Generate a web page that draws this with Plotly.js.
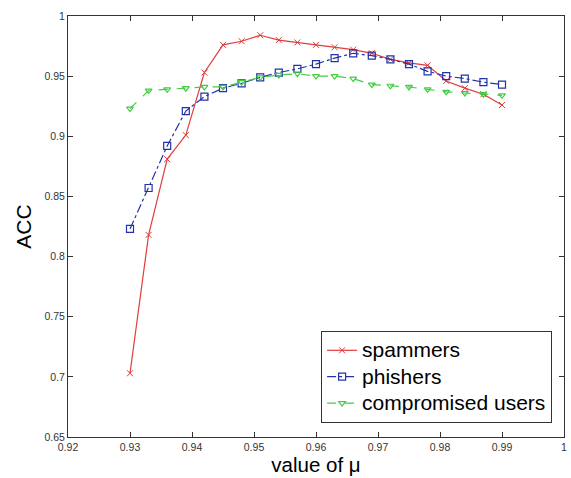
<!DOCTYPE html>
<html><head><meta charset="utf-8">
<script src="https://cdn.plot.ly/plotly-3.0.1.min.js"></script>
<style>html,body{margin:0;padding:0;background:#fff;}#chart{width:571px;height:478px;}</style>
</head><body><div id="chart"></div>
<script>
const mu = [0.930,0.933,0.936,0.939,0.942,0.945,0.948,0.951,0.954,0.957,0.960,0.963,0.966,0.969,0.972,0.975,0.978,0.981,0.984,0.987,0.990];
const spammers = [0.703,0.818,0.881,0.901,0.953,0.976,0.979,0.984,0.980,0.978,0.976,0.974,0.972,0.969,0.964,0.961,0.959,0.946,0.940,0.935,0.926];
const phishers = [0.823,0.857,0.892,0.921,0.933,0.940,0.944,0.949,0.953,0.956,0.960,0.965,0.969,0.967,0.964,0.960,0.954,0.950,0.948,0.945,0.943];
const compromised = [0.923,0.938,0.939,0.940,0.941,0.941,0.945,0.949,0.951,0.952,0.950,0.950,0.948,0.943,0.942,0.941,0.939,0.937,0.936,0.935,0.934];
const seriesNames = ['spammers','phishers','compromised users'];
const xTicks = [0.92,0.93,0.94,0.95,0.96,0.97,0.98,0.99,1];
const xTickText = ['0.92','0.93','0.94','0.95','0.96','0.97','0.98','0.99','1'];
const yTicks = [0.65,0.7,0.75,0.8,0.85,0.9,0.95,1];
const yTickText = ['0.65','0.7','0.75','0.8','0.85','0.9','0.95','1'];

const big = s => '<span style="font-size:21px">' + s + '</span>';

const traces = [
  {x: mu, y: spammers, name: big(seriesNames[0]), mode: 'lines+markers',
   line: {color: '#e03c3c', width: 1.2, dash: 'solid'},
   marker: {symbol: 'x-thin-open', size: 6, color: '#e03c3c', line: {color: '#e03c3c', width: 1}}},
  {x: mu, y: phishers, name: big(seriesNames[1]), mode: 'lines+markers',
   line: {color: '#2233aa', width: 1.2, dash: 'dashdot'},
   marker: {symbol: 'square-open', size: 7, color: '#2233aa', line: {color: '#2233aa', width: 1.2}}},
  {x: mu, y: compromised, name: big(seriesNames[2]), mode: 'lines+markers',
   line: {color: '#44cc44', width: 1.2, dash: 'dash'},
   marker: {symbol: 'triangle-down-open', size: 6, color: '#44cc44', line: {color: '#44cc44', width: 1.2}}}
];

const axisCommon = {
  showgrid: false, zeroline: false, showline: true, linecolor: '#333', linewidth: 1,
  mirror: 'ticks', ticks: 'inside', ticklen: 5, tickcolor: '#333',
  tickfont: {family: 'Liberation Sans, Arial, sans-serif', size: 10.5, color: '#333'}
};

const layout = {
  width: 571, height: 478,
  margin: {l: 68, r: 7, t: 16, b: 41},
  paper_bgcolor: '#fff', plot_bgcolor: '#fff',
  font: {family: 'Liberation Sans, Arial, sans-serif', color: '#000'},
  xaxis: Object.assign({}, axisCommon, {
    range: [0.92, 1], tickvals: xTicks, ticktext: xTickText,
    title: {text: 'value of μ', font: {size: 20.5, family: 'Liberation Sans, Arial, sans-serif'}, standoff: 4}
  }),
  yaxis: Object.assign({}, axisCommon, {
    range: [0.65, 1], tickvals: yTicks, ticktext: yTickText,
    title: {text: 'ACC', font: {size: 21, family: 'Liberation Sans, Arial, sans-serif'}, standoff: 7}
  }),
  showlegend: true,
  legend: {
    x: 0.976, y: 0.033, xanchor: 'right', yanchor: 'bottom',
    bgcolor: '#fff', bordercolor: '#333', borderwidth: 1,
    font: {size: 18, family: 'Liberation Sans, Arial, sans-serif', color: '#000'},
    itemwidth: 30, tracegroupgap: 0
  }
};

Plotly.newPlot('chart', traces, layout, {displayModeBar: false, staticPlot: true});
</script>
</body></html>
